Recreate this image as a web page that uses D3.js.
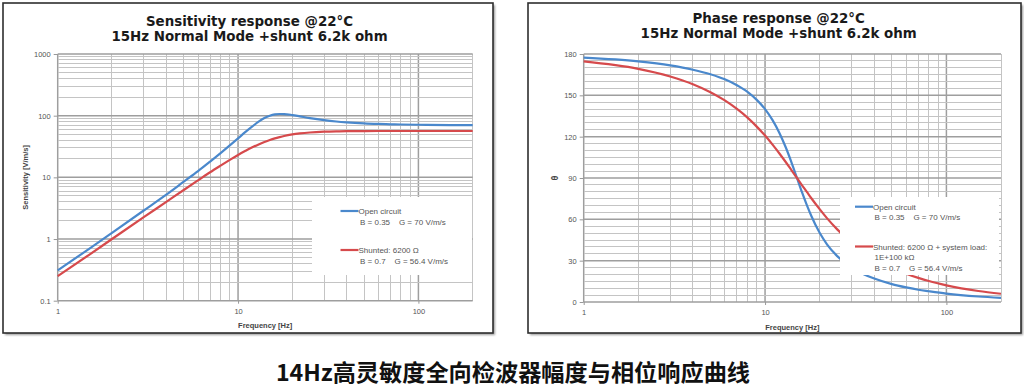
<!DOCTYPE html>
<meta charset="utf-8">
<html>
  <style>
    body { margin: 0; background: #fff; }
    .grid-minor { stroke: #c4c4c4; stroke-width: 1px; shape-rendering: crispEdges; }
    .grid-major { stroke: #9e9e9e; stroke-width: 1.5px; }
    .axis text { font-family: "Liberation Sans", sans-serif; font-size: 7.5px; fill: #555; }
    .axis line { stroke: #999; }
    .axis path { display: none; }
    .title { font-family: "DejaVu Sans", sans-serif; font-weight: bold; font-size: 13.4px; fill: #1a1a1a; text-anchor: middle; }
    .axis-title { font-family: "Liberation Sans", sans-serif; font-weight: bold; font-size: 7.5px; fill: #444; text-anchor: middle; }
    .legend-text { font-family: "Liberation Sans", sans-serif; font-size: 8px; fill: #555; white-space: pre; }
    .curve { fill: none; stroke-width: 2.2px; }
  </style>
  <head>
    <script src="https://d3js.org/d3.v7.min.js"></script>
  </head>
  <body>
    <svg id="chart" width="1024" height="389"></svg>
    <script>
      // sensitivity curves, V/m/s
      var freqSens = [1, 1.5, 2, 3, 4, 5, 6, 7, 8, 9, 10, 11, 12, 13, 14, 15, 16, 17, 18, 20, 22, 25, 30, 35, 40, 50, 60, 70, 80, 100, 150, 200];
      var sensOpen = [0.31, 0.70, 1.26, 2.9, 5.25, 8.5, 12.6, 18, 24.7, 32.9, 42.8, 54.5, 67, 80, 91.6, 100, 105, 106.5, 106.3, 102.4, 97.6, 91.4, 84.6, 80.5, 77.9, 74.9, 73.4, 72.5, 71.9, 71.2, 70.5, 70.3];
      var sensShunt = [0.25, 0.56, 1.0, 2.26, 4.0, 6.24, 8.94, 12.1, 15.5, 19.2, 23.1, 26.9, 30.7, 34.2, 37.4, 40.3, 42.8, 44.9, 46.8, 49.6, 51.5, 53.4, 55.0, 55.7, 56.0, 56.3, 56.4, 56.4, 56.4, 56.4, 56.4, 56.4];

      // phase curves, degrees
      var freqPhase = [1, 2, 3, 4, 5, 6, 7, 8, 9, 10, 11, 12, 13, 14, 15, 16, 17, 18, 20, 22, 25, 30, 35, 40, 50, 60, 70, 80, 100, 150, 200];
      var phaseOpen = [177.3, 174.6, 171.7, 168.6, 165.3, 161.6, 157.3, 152.5, 146.7, 140.0, 132.0, 122.7, 112.3, 101.2, 90, 79.5, 70.3, 62.4, 50.2, 41.7, 33.3, 25.0, 20.2, 17.0, 13.0, 10.6, 8.9, 7.8, 6.1, 4.0, 3.0];
      var phaseShunt = [174.6, 169.2, 163.7, 158.1, 152.3, 146.3, 140.1, 133.8, 127.3, 120.8, 114.2, 107.8, 101.6, 95.6, 90, 84.7, 79.9, 75.3, 67.4, 60.7, 52.7, 43.0, 36.3, 31.4, 24.8, 20.5, 17.5, 15.2, 12.1, 8.0, 6.0];

      // ticks
      var freqTicks = [1, 10, 100];
      var sensTicks = [0.1, 1, 10, 100, 1000];
      var phaseTicks = [0, 30, 60, 90, 120, 150, 180];

      // texts
      var sensTitle = ["Sensitivity response @22\u00B0C", "15Hz Normal Mode +shunt 6.2k ohm"];
      var phaseTitle = ["Phase response @22\u00B0C", "15Hz Normal Mode +shunt 6.2k ohm"];
      var legendOpen = ["Open circuit", "B = 0.35    G = 70 V/m/s"];
      var legendShuntSens = ["Shunted: 6200 \u03A9", "B = 0.7    G = 56.4 V/m/s"];
      var legendShuntPhase = ["Shunted: 6200 \u03A9 + system load:", "1E+100 k\u03A9", "B = 0.7    G = 56.4 V/m/s"];
      var caption = "14Hz高灵敏度全向检波器幅度与相位响应曲线";

      var blue = "#4a88cc", red = "#d64a4c";
      var svg = d3.select("#chart");

      var defs = svg.append("defs");
      defs.append("filter").attr("id", "shadow")
          .attr("x", "-5%").attr("y", "-5%").attr("width", "110%").attr("height", "110%")
        .append("feGaussianBlur").attr("stdDeviation", 1.2);

      // log grid values 1..9 per decade
      function logGrid(lo, hi) {
        var out = [];
        for (var d = lo; d < hi; d *= 10) {
          for (var k = 1; k < 10; k++) out.push(+(k * d).toPrecision(3));
        }
        out.push(hi);
        return out;
      }

      function drawPanel(cfg) {
        var g = svg.append("g");
        var f = cfg.frame;
        // shadow + frame
        g.append("rect").attr("x", f.x + 2).attr("y", f.y + 2).attr("width", f.w).attr("height", f.h)
          .attr("fill", "#9a9a9a").attr("filter", "url(#shadow)");
        g.append("rect").attr("x", f.x).attr("y", f.y).attr("width", f.w).attr("height", f.h)
          .attr("fill", "#fff").attr("stroke", "#2e2e2e").attr("stroke-width", 1.6);

        var x = d3.scaleLog().domain([1, 200]).range([cfg.left, cfg.right]);
        var y = cfg.y;

        // grid lines
        var xGrid = logGrid(1, 200).filter(function(v) { return v <= 200; });
        g.append("g").selectAll("line").data(xGrid).enter().append("line")
          .attr("class", function(d) { return freqTicks.indexOf(d) >= 0 ? "grid-major" : "grid-minor"; })
          .attr("x1", function(d) { return x(d); }).attr("x2", function(d) { return x(d); })
          .attr("y1", y.range()[1]).attr("y2", y.range()[0]);
        g.append("g").selectAll("line").data(cfg.yGrid).enter().append("line")
          .attr("class", function(d) { return cfg.yTicks.indexOf(d) >= 0 ? "grid-major" : "grid-minor"; })
          .attr("x1", cfg.left).attr("x2", cfg.right)
          .attr("y1", function(d) { return y(d); }).attr("y2", function(d) { return y(d); });

        // axes
        g.append("g").attr("class", "axis")
          .attr("transform", "translate(" + cfg.left + ",0)")
          .call(d3.axisLeft(y).tickValues(cfg.yTicks).tickSize(4).tickPadding(3).tickFormat(cfg.yFormat));
        g.append("g").attr("class", "axis")
          .attr("transform", "translate(0," + y.range()[0] + ")")
          .call(d3.axisBottom(x).tickValues(freqTicks).tickSize(3).tickPadding(5).tickFormat(d3.format("d")));

        // curves
        var line = d3.line().curve(d3.curveMonotoneX)
          .x(function(d) { return x(d[0]); })
          .y(function(d) { return y(d[1]); });
        cfg.series.forEach(function(s) {
          g.append("path").attr("class", "curve")
            .datum(d3.zip(cfg.freq, s.values))
            .attr("stroke", s.color).attr("d", line);
        });

        // legend box (covers grid and curves)
        var lg = cfg.legend;
        g.append("rect").attr("x", lg.x).attr("y", lg.y).attr("width", lg.w).attr("height", lg.h).attr("fill", "#fff");
        lg.items.forEach(function(it) {
          g.append("line").attr("x1", lg.lineX).attr("x2", lg.lineX + 18)
            .attr("y1", it.y).attr("y2", it.y)
            .attr("stroke", it.color).attr("stroke-width", 2.2);
          it.text.forEach(function(t, i) {
            g.append("text").attr("class", "legend-text")
              .attr("x", lg.lineX + 18 + (i ? 1.5 : 0)).attr("y", it.y + 3 + i * lg.step)
              .text(t);
          });
        });

        // titles
        cfg.title.forEach(function(t, i) {
          g.append("text").attr("class", "title")
            .attr("x", cfg.titleX).attr("y", cfg.titleY + i * 15.5).text(t);
        });
        g.append("text").attr("class", "axis-title")
          .attr("x", (cfg.left + cfg.right) / 2).attr("y", y.range()[0] + 27.5)
          .text("Frequency [Hz]");
        g.append("text").attr("class", "axis-title")
          .attr("transform", "translate(" + cfg.yLabelX + "," + ((y.range()[0] + y.range()[1]) / 2) + ") rotate(-90)")
          .attr("dy", "0.35em")
          .style("font-size", cfg.yLabelSize)
          .text(cfg.yLabel);
      }

      drawPanel({
        frame: {x: 3, y: 3, w: 490, h: 330},
        left: 57.7, right: 472.7,
        y: d3.scaleLog().domain([0.1, 1000]).range([300.7, 54]),
        yTicks: sensTicks,
        yGrid: logGrid(0.1, 1000),
        yFormat: d3.format("~g"),
        freq: freqSens,
        series: [{values: sensOpen, color: blue}, {values: sensShunt, color: red}],
        legend: {x: 312, y: 197, w: 160, h: 78, lineX: 340.5, step: 11,
                 items: [{y: 211, color: blue, text: legendOpen},
                         {y: 250, color: red, text: legendShuntSens}]},
        title: sensTitle, titleX: 249.5, titleY: 25.5,
        yLabel: "Sensitivity [V/m/s]", yLabelX: 25.5, yLabelSize: "7.5px"
      });

      drawPanel({
        frame: {x: 528, y: 3, w: 493, h: 330},
        left: 583.7, right: 1001,
        y: d3.scaleLinear().domain([0, 180]).range([302, 54]),
        yTicks: phaseTicks,
        yGrid: d3.range(0, 181, 5),
        yFormat: d3.format("d"),
        freq: freqPhase,
        series: [{values: phaseOpen, color: blue}, {values: phaseShunt, color: red}],
        legend: {x: 840, y: 197, w: 159, h: 78, lineX: 855, step: 10.5,
                 items: [{y: 206.7, color: blue, text: legendOpen},
                         {y: 246.5, color: red, text: legendShuntPhase}]},
        title: phaseTitle, titleX: 778.7, titleY: 22.5,
        yLabel: "\u03B8", yLabelX: 555, yLabelSize: "9px"
      });

      // caption
      svg.append("text")
        .attr("x", 513).attr("y", 381)
        .attr("text-anchor", "middle")
        .style("font-family", "'Noto Sans CJK SC', sans-serif")
        .style("font-weight", "bold")
        .style("font-size", "23.2px")
        .style("fill", "#111")
        .text(caption);
    </script>
  </body>
</html>
